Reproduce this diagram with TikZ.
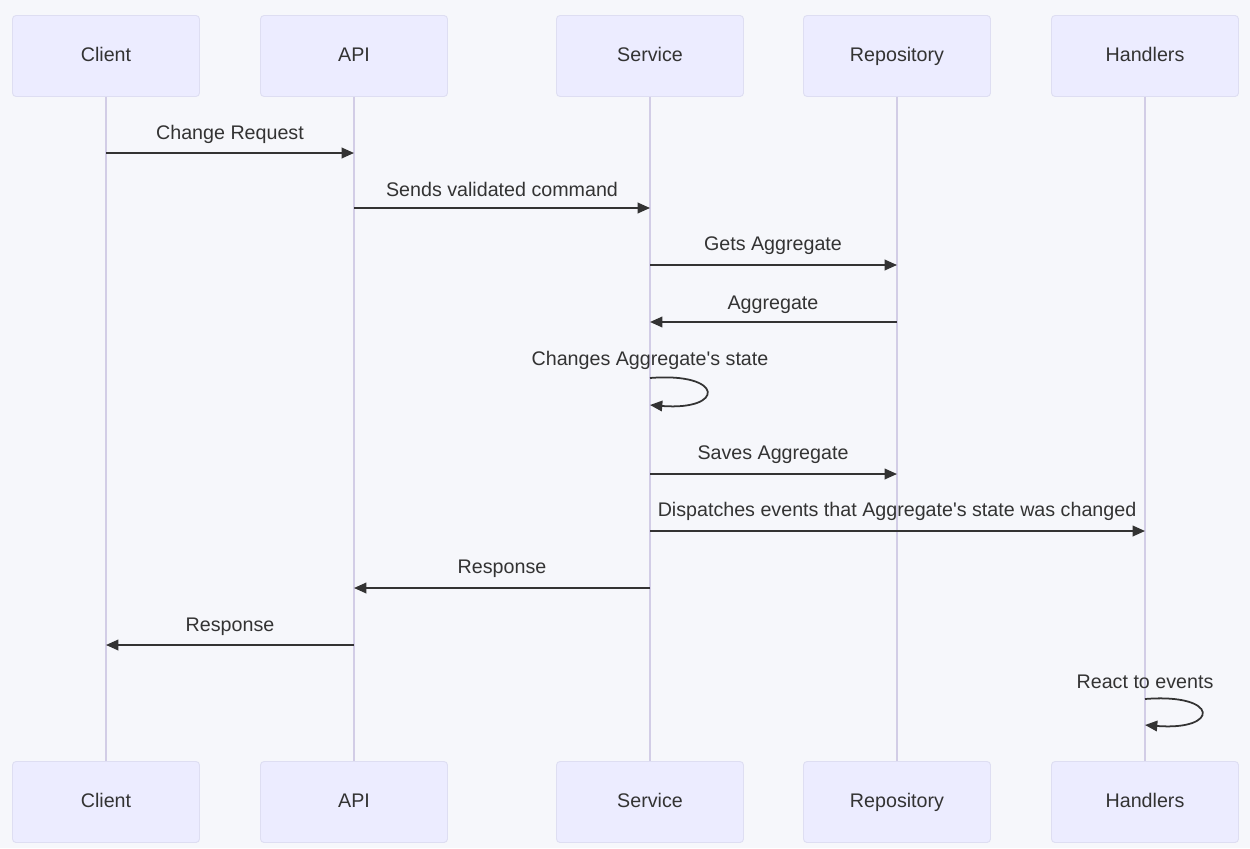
\documentclass[tikz,border=0pt]{standalone}
\usepackage{fontspec}
\setmainfont{Liberation Sans}
\usetikzlibrary{arrows.meta}
\definecolor{bg}{HTML}{F6F7FB}
\definecolor{actorfill}{HTML}{ECECFF}
\definecolor{actorline}{HTML}{DEDEF2}
\definecolor{lifeline}{HTML}{D2CDE6}
\definecolor{ink}{HTML}{333333}
\begin{document}
\begin{tikzpicture}[x=0.02cm,y=-0.02cm,
  every node/.style={font=\fontsize{11.2}{13}\selectfont, text=ink},
  actor/.style={draw=actorline, line width=0.5pt, fill=actorfill, rounded corners=2pt,
                minimum width=3.74cm, minimum height=1.62cm, inner sep=0pt,
                text height=1.6ex, text depth=0.4ex},
  life/.style={draw=lifeline, line width=0.6pt},
  msg/.style={draw=ink, line width=1pt, -{Triangle[length=7pt,width=6pt]}},
  lbl/.style={inner sep=0pt, text height=1.6ex, text depth=0.4ex}]

% canvas
\fill[bg] (0,0) rectangle (1250,848);
\useasboundingbox (0,0) rectangle (1250,848);

% participants, top row
\node[actor] (cT) at (106,56) {Client};
\node[actor] (aT) at (354,56) {API};
\node[actor] (sT) at (650,56) {Service};
\node[actor] (rT) at (897,56) {Repository};
\node[actor] (hT) at (1145,56) {Handlers};

% participants, bottom row
\node[actor] (cB) at (106,802) {Client};
\node[actor] (aB) at (354,802) {API};
\node[actor] (sB) at (650,802) {Service};
\node[actor] (rB) at (897,802) {Repository};
\node[actor] (hB) at (1145,802) {Handlers};

% lifelines
\foreach \p in {c,a,s,r,h}
  \draw[life] (\p T.south) -- (\p B.north);

% messages
\node[lbl] (m1) at (230,134) {Change Request};
\draw[msg] (cT.south |- 0,153) -- (aT.south |- 0,153);

\node[lbl] (m2) at (502,191) {Sends validated command};
\draw[msg] (aT.south |- 0,208) -- (sT.south |- 0,208);

\node[lbl] (m3) at (773,245) {Gets Aggregate};
\draw[msg] (sT.south |- 0,265) -- (rT.south |- 0,265);

\node[lbl] (m4) at (773,304) {Aggregate};
\draw[msg] (rT.south |- 0,322) -- (sT.south |- 0,322);

\node[lbl] (m5) at (650,360) {Changes Aggregate\textquotesingle s state};
\coordinate (s5a) at (sT.south |- 0,378);
\coordinate (s5b) at (sT.south |- 0,405);
\draw[msg] (s5a) .. controls (725,372) and (725,411) .. (s5b);

\node[lbl] (m6) at (773,454) {Saves Aggregate};
\draw[msg] (sT.south |- 0,474) -- (rT.south |- 0,474);

\node[lbl] (m7) at (897,511) {Dispatches events that Aggregate\textquotesingle s state was changed};
\draw[msg] (sT.south |- 0,531) -- (hT.south |- 0,531);

\node[lbl] (m8) at (502,568) {Response};
\draw[msg] (sT.south |- 0,588) -- (aT.south |- 0,588);

\node[lbl] (m9) at (230,626) {Response};
\draw[msg] (aT.south |- 0,645) -- (cT.south |- 0,645);

\node[lbl] (m10) at (1145,683) {React to events};
\coordinate (h10a) at (hT.south |- 0,699);
\coordinate (h10b) at (hT.south |- 0,725);
\draw[msg] (h10a) .. controls (1220,693) and (1220,731) .. (h10b);
\end{tikzpicture}
\end{document}
